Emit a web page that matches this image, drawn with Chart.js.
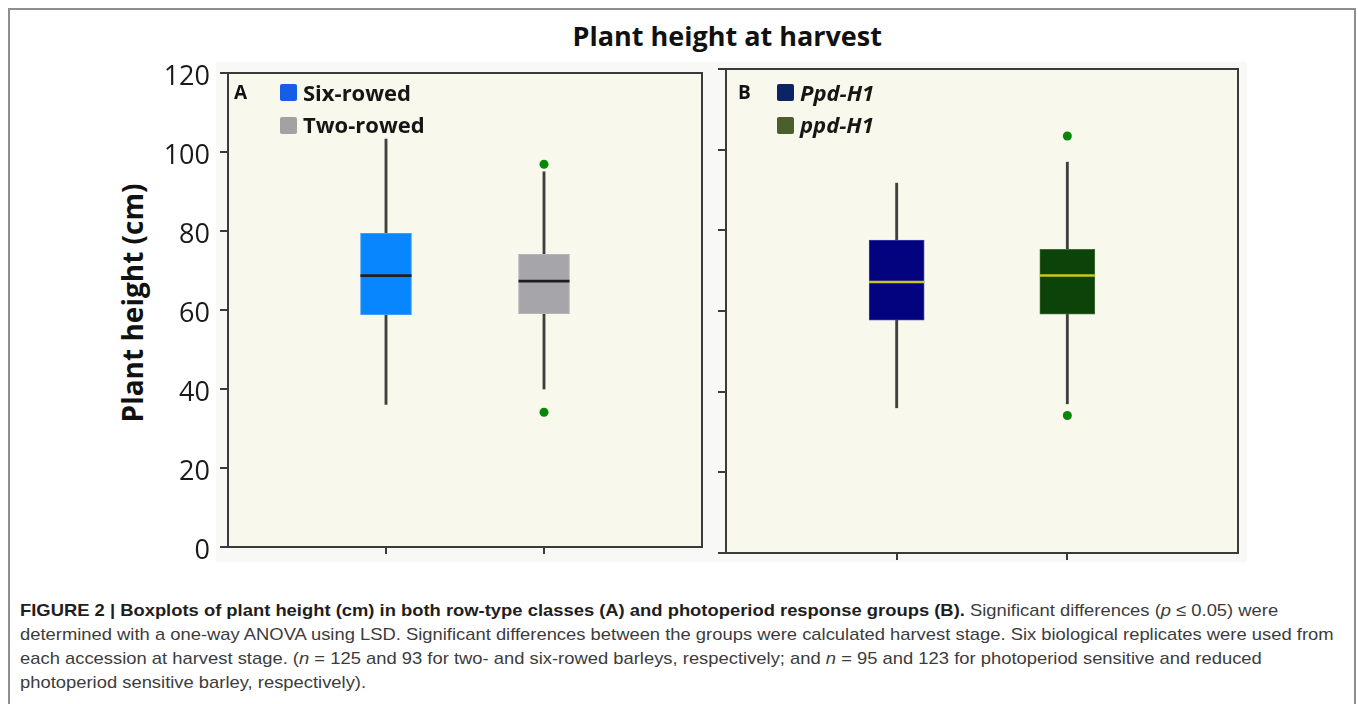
<!DOCTYPE html>
<html>
<head>
<meta charset="utf-8">
<script src="https://cdn.jsdelivr.net/npm/chart.js@4.4.1/dist/chart.umd.min.js"></script>
<style>
  html, body { margin: 0; padding: 0; background: #ffffff; }
  body { width: 1358px; height: 704px; position: relative; overflow: hidden; }
  .abs { position: absolute; white-space: nowrap; }
  .frame { left: 8px; top: 8px; width: 1348px; height: 720px; border: 2px solid #8e8e8e; box-sizing: border-box; }
  .backdrop { left: 216px; top: 62px; width: 1031px; height: 500px; background: #f8f8f7; }
  .title { font-family: "Open Sans", sans-serif; font-weight: 700; font-size: 27px; line-height: 1; color: #111; }
  .ylab { font-family: "Open Sans", sans-serif; font-weight: 700; font-size: 28px; line-height: 1; color: #111;
          transform: translate(-50%, -50%) rotate(-90deg); }
  .panel-tag { font-family: "Open Sans", sans-serif; font-weight: 700; font-size: 19px; line-height: 1; color: #111; }
  .leg { font-family: "Open Sans", sans-serif; font-weight: 700; font-size: 22px; line-height: 1; color: #161616; }
  .leg.it { font-style: italic; }
  .sw { width: 17px; height: 17px; border-radius: 2px; }
  canvas { position: absolute; }
  .cap { font-family: "Liberation Sans", Arial, sans-serif; font-size: 17px; line-height: 24px; color: #3c3c3c; transform-origin: 0 50%; }
  .cap b { color: #1e1e1e; }
</style>
</head>
<body>
<div class="abs frame"></div>
<div class="abs backdrop"></div>

<div class="abs title" id="title" style="top:22px;">Plant height at harvest</div>
<div class="abs ylab" style="left:132px; top:303px;">Plant height (cm)</div>

<canvas id="panelA" width="590" height="530" style="left:130px; top:50px;"></canvas>
<canvas id="panelB" width="560" height="540" style="left:700px; top:40px;"></canvas>

<!-- legend, panel A -->
<div class="abs panel-tag" style="left:234px; top:83px;">A</div>
<div class="abs sw" style="left:280px; top:84px; background:#175ee6;"></div>
<div class="abs leg" style="left:303px; top:81px;">Six-rowed</div>
<div class="abs sw" style="left:280px; top:117px; background:#a2a2a2;"></div>
<div class="abs leg" style="left:303px; top:113px;">Two-rowed</div>

<!-- legend, panel B -->
<div class="abs panel-tag" style="left:738px; top:83px;">B</div>
<div class="abs sw" style="left:777px; top:84px; background:#0c2466;"></div>
<div class="abs leg it" style="left:800px; top:81px;">Ppd-H1</div>
<div class="abs sw" style="left:777px; top:117px; background:#4b5f2c;"></div>
<div class="abs leg it" style="left:800px; top:113px;">ppd-H1</div>

<!-- caption -->
<div class="abs cap" style="left:20px; top:599px;"><b>FIGURE 2 | Boxplots of plant height (cm) in both row-type classes (A) and photoperiod response groups (B).</b> Significant differences (<i>p</i> ≤ 0.05) were</div>
<div class="abs cap" id="capRef" style="left:20px; top:623px;">determined with a one-way ANOVA using LSD. Significant differences between the groups were calculated harvest stage. Six biological replicates were used from</div>
<div class="abs cap" style="left:20px; top:647px;">each accession at harvest stage. (<i>n</i> = 125 and 93 for two- and six-rowed barleys, respectively; and <i>n</i> = 95 and 123 for photoperiod sensitive and reduced</div>
<div class="abs cap" style="left:20px; top:671px;">photoperiod sensitive barley, respectively).</div>

<script>
// Plant height (cm) at harvest, five-number summaries per group
const rowTypes    = ['Six-rowed', 'Two-rowed'];
const rowMin      = [36.1, 40.0];
const rowQ1       = [58.8, 59.1];
const rowMedian   = [68.7, 67.3];
const rowQ3       = [79.4, 74.1];
const rowMax      = [103.3, 95.0];
const rowOutliers = [[], [96.9, 34.1]];

const ppdGroups   = ['Ppd-H1', 'ppd-H1'];
const ppdMin      = [36.0, 37.0];
const ppdQ1       = [57.7, 59.2];
const ppdMedian   = [67.2, 68.8];
const ppdQ3       = [77.6, 75.3];
const ppdMax      = [91.7, 96.9];
const ppdOutliers = [[], [103.4, 34.1]];

const yTicks = [0, 20, 40, 60, 80, 100, 120];

// centre the title over the two panels
(function () {
  const t = document.getElementById('title');
  t.style.left = (727 - t.offsetWidth / 2) + 'px';
})();

// condense the caption lines to the page measure
(function () {
  const ref = document.getElementById('capRef');
  const s = 1314 / ref.scrollWidth;
  document.querySelectorAll('.cap').forEach(el => { el.style.transform = 'scaleX(' + s + ')'; });
})();

const panelFrame = {
  id: 'panelFrame',
  beforeDraw(chart, args, opts) {
    const { ctx, chartArea: a } = chart;
    ctx.save();
    ctx.fillStyle = opts.fill;
    ctx.fillRect(a.left, a.top, a.right - a.left, a.bottom - a.top);
    ctx.restore();
  },
  beforeDatasetsDraw(chart, args, opts) {
    const { ctx, chartArea: a } = chart;
    ctx.save();
    ctx.strokeStyle = opts.stroke;
    ctx.lineWidth = 2;
    ctx.strokeRect(a.left, a.top, a.right - a.left, a.bottom - a.top);
    ctx.restore();
  }
};

function noOverflow(axis) {
  axis.paddingTop = 0;
  axis.paddingBottom = 0;
  axis.paddingLeft = 0;
  axis.paddingRight = 0;
}

function boxPanel(id, groups, mins, q1s, meds, q3s, maxs, outs, look) {
  const pos = groups.map((g, i) => i + 1);
  const outlierPts = [];
  outs.forEach((list, i) => list.forEach(v => outlierPts.push({ x: pos[i], y: v })));

  return new Chart(document.getElementById(id), {
    type: 'bar',
    data: {
      datasets: [
        {
          label: 'whisker',
          data: groups.map((g, i) => ({ x: pos[i], y: [mins[i], maxs[i]] })),
          backgroundColor: '#3f3f3f',
          barThickness: 2.2,
          grouped: false,
          order: 4
        },
        {
          label: 'box',
          data: groups.map((g, i) => ({ x: pos[i], y: [q1s[i], q3s[i]] })),
          backgroundColor: look.boxFill,
          borderColor: look.boxEdge,
          borderWidth: 1,
          borderSkipped: false,
          barThickness: look.boxWidth,
          grouped: false,
          order: 3
        },
        {
          type: 'scatter',
          label: 'median',
          data: groups.map((g, i) => ({ x: pos[i], y: meds[i] })),
          pointStyle: 'line',
          pointRadius: look.boxWidth / 2,
          pointBorderWidth: 2.6,
          pointBorderColor: look.median,
          order: 2
        },
        {
          type: 'scatter',
          label: 'outlier',
          data: outlierPts,
          pointRadius: 4.5,
          pointBackgroundColor: '#078807',
          pointBorderWidth: 0,
          order: 1
        }
      ]
    },
    options: {
      responsive: false,
      animation: false,
      devicePixelRatio: 1,
      events: [],
      layout: { padding: look.padding, autoPadding: false },
      plugins: {
        legend: { display: false },
        tooltip: { enabled: false },
        panelFrame: { fill: '#f9f8ec', stroke: '#3a3a3a' }
      },
      scales: {
        x: {
          type: 'linear',
          offset: false,
          min: 0,
          max: groups.length + 1,
          afterBuildTicks: axis => { axis.ticks = pos.map(v => ({ value: v })); },
          afterFit: axis => { axis.height = 20; noOverflow(axis); },
          ticks: { display: false },
          grid: { offset: false, drawOnChartArea: false, drawTicks: true, tickLength: 7, color: '#3a3a3a', lineWidth: 2 },
          border: { display: true, color: '#3a3a3a', width: 2 }
        },
        y: {
          min: 0,
          max: 120,
          afterBuildTicks: axis => { axis.ticks = yTicks.map(v => ({ value: v })); },
          afterFit: axis => { axis.width = look.yWidth; noOverflow(axis); },
          ticks: {
            display: look.showLabels,
            color: '#1a1a1a',
            padding: 10,
            labelOffset: 4,
            font: { family: 'Open Sans', size: 27 }
          },
          grid: { drawOnChartArea: false, drawTicks: true, tickLength: 8, color: '#3a3a3a', lineWidth: 2 },
          border: { display: true, color: '#3a3a3a', width: 2 }
        }
      }
    },
    plugins: [panelFrame]
  });
}

boxPanel('panelA', rowTypes, rowMin, rowQ1, rowMedian, rowQ3, rowMax, rowOutliers, {
  boxFill: ['#0786fe', '#a6a6aa'],
  boxEdge: ['#3f9cff', '#b4b4b8'],
  median: '#1f1f1f',
  boxWidth: 51,
  yWidth: 98,
  showLabels: true,
  padding: { top: 23, right: 18, bottom: 13, left: 0 }
});

boxPanel('panelB', ppdGroups, ppdMin, ppdQ1, ppdMedian, ppdQ3, ppdMax, ppdOutliers, {
  boxFill: ['#03037f', '#0c4308'],
  boxEdge: ['#3c3ca6', '#3e6a3a'],
  median: '#c9c722',
  boxWidth: 55,
  yWidth: 26,
  showLabels: false,
  padding: { top: 29, right: 22, bottom: 7, left: 0 }
});
</script>
</body>
</html>
